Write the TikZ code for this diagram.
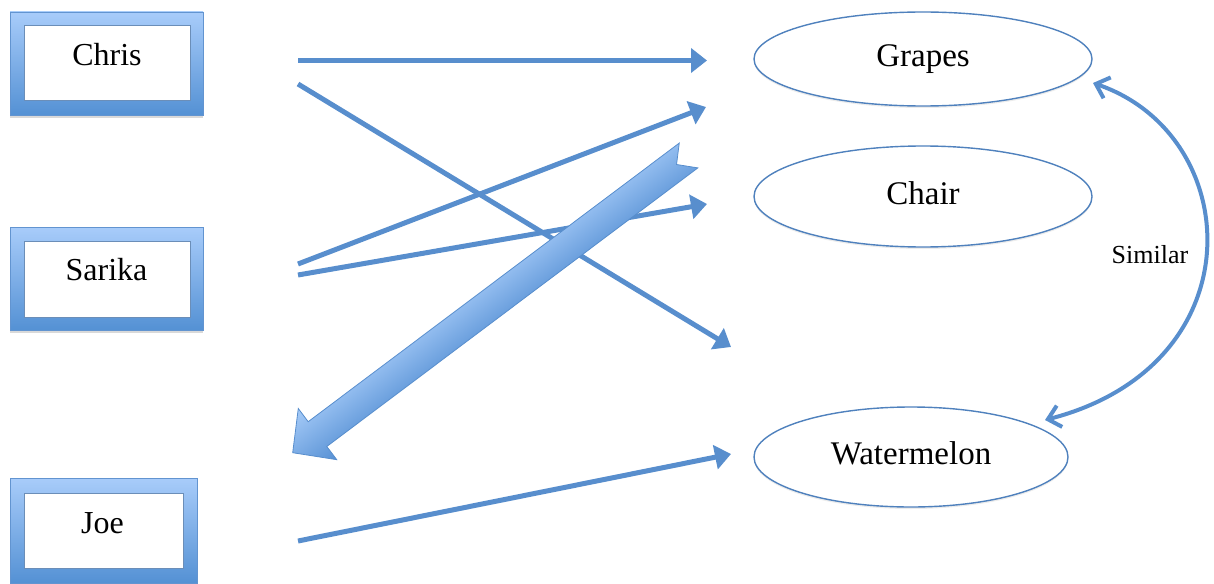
\documentclass[tikz,border=0pt]{standalone}
\usepackage{fontspec}
\setmainfont{Liberation Serif}
\usetikzlibrary{arrows.meta,shapes.geometric,shadows}
\definecolor{ln}{RGB}{88,142,205}
\definecolor{ell}{RGB}{79,129,189}
\definecolor{frtop}{RGB}{168,204,250}
\definecolor{frbot}{RGB}{84,145,212}
\definecolor{frline}{RGB}{98,148,208}
\definecolor{arlight}{RGB}{166,203,248}
\definecolor{ardark}{RGB}{86,144,212}
\begin{document}
\begin{tikzpicture}[x=1pt,y=-1pt,
  frame/.style={rectangle, draw=frline, line width=0.8pt, top color=frtop, bottom color=frbot,
    inner sep=0pt, drop shadow={opacity=0.3, shadow xshift=0pt, shadow yshift=-3pt}},
  inbox/.style={rectangle, draw=frline!70!gray, line width=0.8pt, fill=white, inner sep=0pt},
  lbl/.style={anchor=base, inner sep=0pt, font=\fontsize{32}{38}\selectfont},
  oval/.style={ellipse, draw=ell, line width=1.4pt, fill=white, inner sep=0pt,
    font=\fontsize{33}{40}\selectfont, text height=22pt, text depth=7pt,
    drop shadow={opacity=0.15, shadow xshift=0pt, shadow yshift=-2pt}},
  link/.style={draw=ln, line width=5pt, -{Triangle[length=16pt,width=24pt]}},
  sim/.style={draw=ln, line width=4pt,
    {Straight Barb[length=12pt,width=22pt]}-{Straight Barb[length=12pt,width=22pt]}},
  bigarrow/.style={draw=ln, line width=0.8pt, top color=arlight, bottom color=ardark}
]
\useasboundingbox (0,0) rectangle (1214,583);

% left boxes
\node[frame, minimum width=193pt, minimum height=103pt] (chrisF) at (106.5,63.5) {};
\node[inbox, minimum width=166pt, minimum height=75pt] (chrisI) at (107,62.5) {};
\node[lbl] (chris) at (107,66) {Chris};

\node[frame, minimum width=193pt, minimum height=103pt] (sarikaF) at (106.5,278.5) {};
\node[inbox, minimum width=166pt, minimum height=76pt] (sarikaI) at (107,279) {};
\node[lbl] (sarika) at (106.5,280) {Sarika};

\node[frame, minimum width=187pt, minimum height=105pt] (joeF) at (103.5,530.5) {};
\node[inbox, minimum width=159pt, minimum height=75pt] (joeI) at (103.5,530.5) {};
\node[lbl] (joe) at (102.5,533) {Joe};

% right ellipses
\node[oval, minimum width=338pt, minimum height=94pt] (grapes) at (923,59) {Grapes};
\node[oval, minimum width=338pt, minimum height=101pt] (chair) at (923,196.5) {Chair};
\node[oval, minimum width=314pt, minimum height=100pt] (water) at (911,457) {Watermelon};

% connector end points
\coordinate (c1s) at (298,60.5);  \coordinate (c1e) at (707,60.5);
\coordinate (c2s) at (298,84);    \coordinate (c2e) at (731,347);
\coordinate (s1s) at (298,264);   \coordinate (s1e) at (706,107);
\coordinate (s2s) at (298,275);   \coordinate (s2e) at (707,204);
\coordinate (j1s) at (298,541);   \coordinate (j1e) at (731,454);
\coordinate (simA) at (1093,83);  \coordinate (simB) at (1045,420);

\draw[link] (c1s) -- (c1e);
\draw[link] (c2s) -- (c2e);
\draw[link] (s1s) -- (s1e);
\draw[link] (s2s) -- (s2e);
\draw[link] (j1s) -- (j1e);

% big block arrow, drawn in its own rotated frame so the shading runs across the shaft
\begin{scope}[transform canvas={shift={(292.7pt,-452.7pt)}, rotate=36.9}, x=1pt, y=1pt]
  \draw[bigarrow] (0pt,0pt) -- (31pt,32pt) -- (31pt,15.5pt) -- (495pt,15.5pt) -- (480pt,0pt)
    -- (495pt,-15.5pt) -- (31pt,-15.5pt) -- (31pt,-32pt) -- cycle;
\end{scope}

% similar arc
\draw[sim] (simA) .. controls (1245,135) and (1258,365) .. (simB);
\node[anchor=base, inner sep=0pt, font=\fontsize{26}{31}\selectfont] (simlbl) at (1150,263) {Similar};
\end{tikzpicture}
\end{document}
